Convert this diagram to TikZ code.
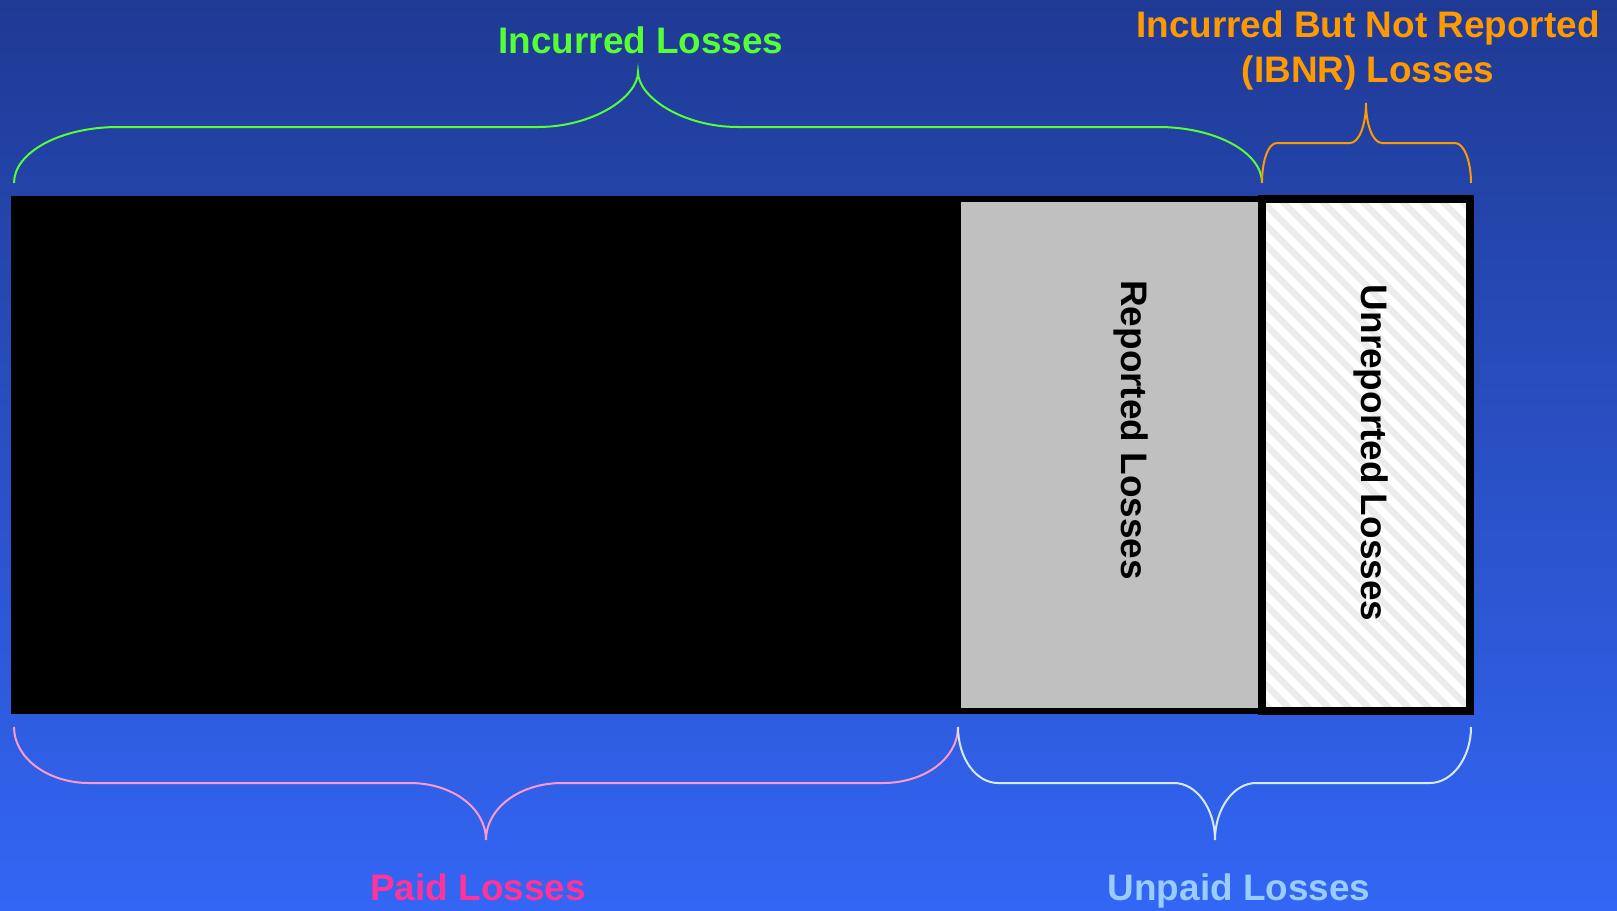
\documentclass[tikz,border=0pt]{standalone}
\usepackage{fontspec}
\setmainfont{Liberation Sans}
\definecolor{bgtop}{RGB}{31,58,148}
\definecolor{bgbottom}{RGB}{51,102,245}
\definecolor{incgreen}{RGB}{85,255,51}
\definecolor{ibnrorange}{RGB}{255,153,0}
\definecolor{paidpink}{RGB}{255,51,153}
\definecolor{paidbrace}{RGB}{255,153,204}
\definecolor{unpaidblue}{RGB}{153,204,255}
\definecolor{unpaidbrace}{RGB}{215,232,255}
\definecolor{repgray}{RGB}{192,192,192}
\definecolor{hatchgray}{RGB}{236,236,236}
\tikzset{
  losslabel/.style={font=\bfseries\fontsize{10.5}{12.8}\selectfont},
  braceline/.style={line width=0.2mm},
}
\begin{document}
\begin{tikzpicture}[x=0.1mm,y=-0.1mm]
  \useasboundingbox (0,0) rectangle (1617,911);
  \shade[top color=bgtop,bottom color=bgbottom] (0,0) rectangle (1617,911);
  % the loss bar
  \fill (11,196) rectangle (1262,714);
  \fill[repgray] (961,202) rectangle (1258,708);
  \fill[white] (1262,199) rectangle (1470,711);
  \begin{scope}
    \clip (1262,199) rectangle (1470,711);
    \foreach \x in {740,760,...,1480} \draw[hatchgray,line width=0.65mm] (\x,199) -- ++(520,520);
  \end{scope}
  \draw[line width=0.8mm] (1262,199) rectangle (1470,711);
  \node[losslabel,rotate=-90,anchor=base] (reported) at (1121,430) {Reported Losses};
  \node[losslabel,rotate=-90,anchor=base] (unreported) at (1361,453) {Unreported Losses};
  % braces
  \draw[braceline,incgreen] (14,183) .. controls (14,152) and (61,127) .. (118,127) -- (538,127) .. controls (593,127) and (638,97) .. (638,72) .. controls (638,97) and (683,127) .. (738,127) -- (1158,127) .. controls (1215,127) and (1262,152) .. (1262,183);
  \draw[braceline,ibnrorange] (1262,183) .. controls (1262,161) and (1268,143) .. (1277,143) -- (1350,143) .. controls (1359,143) and (1366,125) .. (1366,103) .. controls (1366,125) and (1373,143) .. (1382,143) -- (1455,143) .. controls (1464,143) and (1471,161) .. (1471,183);
  \draw[braceline,paidbrace] (14,727) .. controls (14,758) and (48,783) .. (89,783) -- (410,783) .. controls (452,783) and (486,808) .. (486,840) .. controls (486,808) and (520,783) .. (562,783) -- (883,783) .. controls (925,783) and (958,758) .. (958,727);
  \draw[braceline,unpaidbrace] (958,727) .. controls (958,758) and (976,783) .. (998,783) -- (1174,783) .. controls (1196,783) and (1215,808) .. (1215,840) .. controls (1215,808) and (1234,783) .. (1256,783) -- (1430,783) .. controls (1452,783) and (1471,758) .. (1471,727);
  % labels
  \node[losslabel,text=incgreen,anchor=base] (incurred) at (641,53) {Incurred Losses};
  \node[losslabel,text=ibnrorange,anchor=base,align=center] (ibnr) at (1368,82) {Incurred But Not Reported\\(IBNR) Losses};
  \node[losslabel,text=paidpink,anchor=base] (paid) at (478,900) {Paid Losses};
  \node[losslabel,text=unpaidblue,anchor=base] (unpaid) at (1239,900) {Unpaid Losses};
\end{tikzpicture}
\end{document}
